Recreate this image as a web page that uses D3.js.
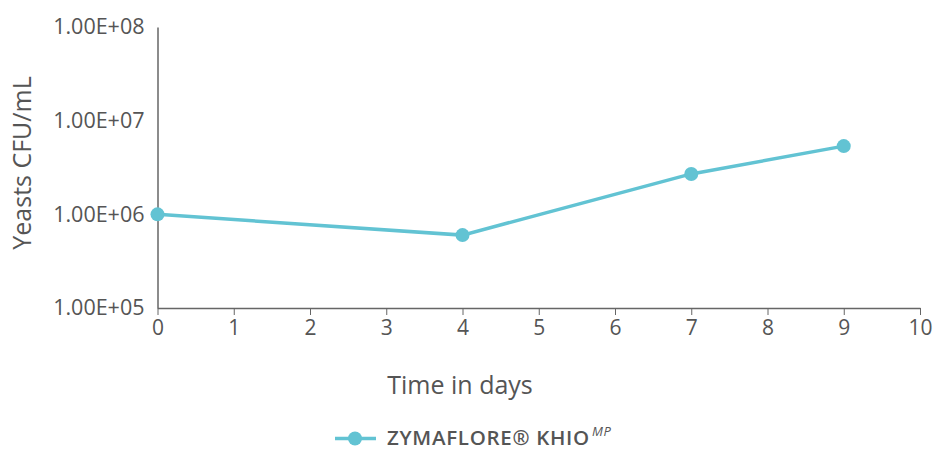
<!DOCTYPE html>
<html>
<head>
<meta charset="utf-8">
<script src="https://cdn.jsdelivr.net/npm/d3@7"></script>
<style>
  body { margin: 0; background: #fff; }
  text { font-family: "Open Sans", "Noto Sans", sans-serif; fill: #555; }
</style>
</head>
<body>
<div id="chart"></div>
<script>
// data
const days = [0, 4, 7, 9];
const cfu = [1.0e6, 6.0e5, 2.7e6, 5.35e6];
const yTicks = [1e5, 1e6, 1e7, 1e8];
const xTicks = [0, 1, 2, 3, 4, 5, 6, 7, 8, 9, 10];
const seriesName = "ZYMAFLORE® KHIO";

const width = 934, height = 450;
const margin = { top: 27, right: 14, bottom: 142, left: 157.5 };
const color = "#62c3d3";
const axisColor = "#666";

const svg = d3.select("#chart").append("svg")
    .attr("width", width)
    .attr("height", height);

const x = d3.scaleLinear()
    .domain([0, 10])
    .range([margin.left, width - margin.right]);
const y = d3.scaleLog()
    .domain([1e5, 1e8])
    .range([height - margin.bottom, margin.top]);

// x axis
const xAxis = svg.append("g")
    .attr("transform", `translate(0,${y(1e5)})`)
    .call(d3.axisBottom(x).tickValues(xTicks).tickSize(7).tickSizeOuter(0).tickPadding(5));
xAxis.select(".domain").attr("stroke", axisColor).attr("stroke-width", 1.5);
xAxis.selectAll(".tick line").attr("stroke", axisColor).attr("stroke-width", 1);
xAxis.selectAll("text").style("font-size", "21px").attr("fill", "#555");

// y axis (no ticks)
const yAxis = svg.append("g")
    .attr("transform", `translate(${margin.left},0)`)
    .call(d3.axisLeft(y).tickValues(yTicks).tickSize(0).tickPadding(13)
        .tickFormat(d => d.toExponential(2).toUpperCase().replace("E+", "E+0")));
yAxis.select(".domain").attr("stroke", axisColor).attr("stroke-width", 1.5);
yAxis.selectAll("text").style("font-size", "21.5px").attr("fill", "#555");

// axis titles
svg.append("text")
    .attr("x", 460).attr("y", 394)
    .attr("text-anchor", "middle")
    .style("font-size", "25px")
    .text("Time in days");
svg.append("text")
    .attr("transform", `translate(31,163) rotate(-90)`)
    .attr("text-anchor", "middle")
    .style("font-size", "25px")
    .text("Yeasts CFU/mL");

// series
const pts = days.map((d, i) => [d, cfu[i]]);
svg.append("path")
    .datum(pts)
    .attr("fill", "none")
    .attr("stroke", color)
    .attr("stroke-width", 3.5)
    .attr("d", d3.line().x(d => x(d[0])).y(d => y(d[1])));
svg.selectAll("circle.pt")
    .data(pts)
    .join("circle")
    .attr("class", "pt")
    .attr("cx", d => x(d[0]))
    .attr("cy", d => y(d[1]))
    .attr("r", 7)
    .attr("fill", color);

// legend
const lg = svg.append("g").attr("transform", "translate(335,438.5)");
lg.append("line").attr("x1", 0).attr("x2", 41).attr("stroke", color).attr("stroke-width", 3.5);
lg.append("circle").attr("cx", 20).attr("r", 7).attr("fill", color);
const lt = lg.append("text")
    .attr("x", 52).attr("y", 6.5)
    .style("font-size", "20.5px")
    .style("font-weight", 600)
    .style("letter-spacing", "0.7px");
lt.append("tspan").text(seriesName);
lt.append("tspan")
    .attr("dx", 2)
    .attr("dy", -9)
    .style("font-size", "13px")
    .style("font-style", "italic")
    .style("font-weight", 400)
    .text("MP");
</script>
</body>
</html>
